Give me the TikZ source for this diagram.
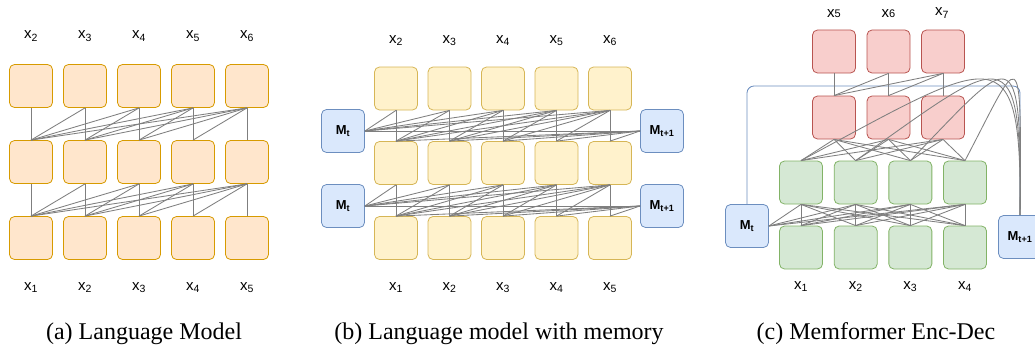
\documentclass[tikz,border=0pt]{standalone}
\usepackage{fontspec}
\setmainfont{Liberation Serif}
\setsansfont{Liberation Sans}

\definecolor{lmfill}{HTML}{FFE6CC}
\definecolor{lmline}{HTML}{D79B00}
\definecolor{memfill}{HTML}{FFF2CC}
\definecolor{memline}{HTML}{D6B656}
\definecolor{mfill}{HTML}{DAE8FC}
\definecolor{mline}{HTML}{6C8EBF}
\definecolor{decfill}{HTML}{F8CECC}
\definecolor{decline}{HTML}{B85450}
\definecolor{encfill}{HTML}{D5E8D4}
\definecolor{encline}{HTML}{82B366}
\definecolor{linkgray}{HTML}{7F7F7F}

\begin{document}
\begin{tikzpicture}[x=1pt,y=-1pt,
  cell/.style={draw, rounded corners=5pt, line width=0.8pt,
    minimum size=43pt, inner sep=0pt},
  lmcell/.style={cell, fill=lmfill, draw=lmline},
  memcell/.style={cell, fill=memfill, draw=memline},
  mcell/.style={cell, fill=mfill, draw=mline,
    font=\sffamily\bfseries\fontsize{13}{13}\selectfont},
  deccell/.style={cell, fill=decfill, draw=decline},
  enccell/.style={cell, fill=encfill, draw=encline},
  tok/.style={anchor=base, font=\sffamily\fontsize{15}{15}\selectfont},
  caption/.style={anchor=base, font=\fontsize{24}{24}\selectfont},
  link/.style={draw=linkgray, line width=0.85pt}]
\useasboundingbox (0,0) rectangle (1035,345);

% (a) language model
\foreach \r/\y in {1/238, 2/162, 3/86}
  \foreach \c in {1,...,5}
    \node[lmcell] (a\r\c) at ({31+54*(\c-1)},\y) {};
\foreach \c in {1,...,5} {
  \pgfmathtruncatemacro\n{\c+1}
  \node[tok] (at\c) at ({31+54*(\c-1)},39) {x\textsubscript{\n}};
  \node[tok] (ab\c) at ({31+54*(\c-1)},290) {x\textsubscript{\c}};
}
\foreach \r/\s in {1/2, 2/3}
  \foreach \i in {1,...,5}
    \foreach \j in {\i,...,5}
      \draw[link] (a\r\i.north) -- (a\s\j.south);

% (b) language model with memory
\foreach \r/\y in {1/238, 2/163, 3/88.5}
  \foreach \c in {1,...,5}
    \node[memcell] (b\r\c) at ({396+53.5*(\c-1)},\y) {};
\node[mcell] (mt1) at (343,206) {M\textsubscript{t}};
\node[mcell] (mt2) at (343,131) {M\textsubscript{t}};
\node[mcell] (mn1) at (662,206) {M\textsubscript{t+1}};
\node[mcell] (mn2) at (662,131) {M\textsubscript{t+1}};
\foreach \c in {1,...,5} {
  \pgfmathtruncatemacro\n{\c+1}
  \node[tok] (bt\c) at ({396+53.5*(\c-1)},43.5) {x\textsubscript{\n}};
  \node[tok] (bb\c) at ({396+53.5*(\c-1)},290) {x\textsubscript{\c}};
}
\foreach \r/\s in {1/2, 2/3} {
  \draw[link] (mt\r.east) -- (mn\r.west);
  \foreach \i in {1,...,5} {
    \draw[link] (mt\r.east) -- (b\s\i.south);
    \draw[link] (mn\r.west) -- (b\r\i.north);
    \foreach \j in {\i,...,5}
      \draw[link] (b\r\i.north) -- (b\s\j.south);
  }
}

% (c) memformer encoder-decoder
\foreach \r/\y in {1/247.5, 2/182.5}
  \foreach \c in {1,...,4}
    \node[enccell] (e\r\c) at ({801+54.67*(\c-1)},\y) {};
\foreach \r/\y in {1/117.5, 2/51.5}
  \foreach \c in {1,...,3}
    \node[deccell] (d\r\c) at ({834+54.5*(\c-1)},\y) {};
\node[mcell] (mt) at (747,226) {M\textsubscript{t}};
\node[mcell] (mn) at (1020,237) {M\textsubscript{t+1}};
\node[tok] (ct1) at (834,18) {x{\fontsize{11}{11}\selectfont 5}};
\node[tok] (ct2) at (888.5,18) {x{\fontsize{11}{11}\selectfont 6}};
\node[tok] (ct3) at (942,16) {x\textsubscript{7}};
\foreach \c in {1,...,4}
  \node[tok] (cb\c) at ({801+54.67*(\c-1)},289) {x\textsubscript{\c}};
\coordinate (memtop) at (900,86);
\draw[mline, line width=0.85pt, rounded corners=7pt]
  (mt.north) |- (memtop) -| (mn.north);
\foreach \i in {1,...,4} {
  \draw[link] (mt.east) -- (e2\i.south);
  \foreach \j in {1,...,4}
    \draw[link] (e1\i.north) -- (e2\j.south);
  \foreach \j in {1,...,3}
    \draw[link] (e2\i.north) -- (d1\j.south);
  \draw[link] (e2\i.north) .. controls ({988+8*\i},56) and (1022,30) .. (mn.north);
}
\foreach \i in {1,...,3}
  \foreach \j in {\i,...,3}
    \draw[link] (d1\i.north) -- (d2\j.south);

% captions
\node[caption] (capa) at (144,339) {(a) Language Model};
\node[caption] (capb) at (499,339) {(b) Language model with memory};
\node[caption] (capc) at (876,339) {(c) Memformer Enc-Dec};
\end{tikzpicture}
\end{document}
